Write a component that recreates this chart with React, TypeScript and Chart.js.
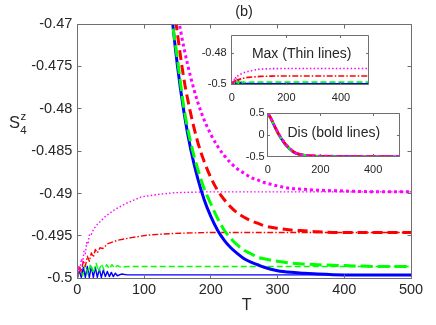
import React, { useEffect, useRef } from "react";
import { Chart, registerables } from "chart.js";
Chart.register(...registerables);

const FONT = "'Liberation Sans', Arial, Helvetica, sans-serif";
const AXIS_COLOR = "#6f6f6f";
const TEXT_COLOR = "#262626";

// ---------- tick values / labels ----------
const X_TICKS = [0, 100, 200, 300, 400, 500];
const X_TICK_LABELS = ["0", "100", "200", "300", "400", "500"];
const Y_TICKS = [-0.5, -0.495, -0.49, -0.485, -0.48, -0.475, -0.47];
const Y_TICK_LABELS = ["-0.5", "-0.495", "-0.49", "-0.485", "-0.48", "-0.475", "-0.47"];
const INSET_X_TICKS = [0, 200, 400];
const INSET_X_LABELS = ["0", "200", "400"];
const MAX_Y_TICKS = [-0.5, -0.48];
const MAX_Y_LABELS = ["-0.5", "-0.48"];
const DIS_Y_TICKS = [-0.5, 0, 0.5];
const DIS_Y_LABELS = ["-0.5", "0", "0.5"];

// ---------- bold lines (Dis) ----------
const T_BOLD = [0, 10, 20, 30, 40, 50, 60, 70, 80, 90, 100, 110, 120, 130, 140, 150, 160, 170, 180, 190, 200, 210, 220, 230, 240, 250, 260, 270, 280, 300, 320, 340, 360, 400, 450, 500];
const BLUE_BOLD = [0.5, 0.4, 0.28, 0.15, 0.03, -0.07, -0.16, -0.24, -0.3, -0.355, -0.4, -0.428, -0.446, -0.4583, -0.4676, -0.4749, -0.4805, -0.4848, -0.4881, -0.4907, -0.4927, -0.4943, -0.4955, -0.4964, -0.4971, -0.4977, -0.4981, -0.4984, -0.4987, -0.4991, -0.4993, -0.4994, -0.4995, -0.4996, -0.4996, -0.4996];
const GREEN_BOLD = [0.5, 0.4, 0.28, 0.15, 0.03, -0.07, -0.16, -0.24, -0.3, -0.355, -0.4, -0.428, -0.446, -0.4586, -0.4681, -0.4741, -0.48, -0.484, -0.487, -0.4894, -0.4912, -0.4929, -0.4943, -0.4953, -0.4961, -0.4967, -0.4971, -0.4975, -0.4977, -0.498, -0.4982, -0.4983, -0.4984, -0.4985, -0.4986, -0.4986];
const RED_BOLD = [0.5, 0.41, 0.29, 0.16, 0.04, -0.06, -0.15, -0.23, -0.29, -0.345, -0.39, -0.422, -0.4441, -0.4556, -0.4646, -0.4711, -0.4766, -0.4806, -0.4838, -0.4862, -0.4881, -0.4896, -0.4907, -0.4916, -0.4923, -0.4928, -0.4932, -0.4935, -0.4938, -0.4941, -0.4943, -0.4944, -0.4945, -0.4946, -0.4946, -0.4946];
const MAGENTA_BOLD = [0.5, 0.41, 0.29, 0.17, 0.05, -0.05, -0.14, -0.22, -0.285, -0.34, -0.39, -0.424, -0.4479, -0.4564, -0.4632, -0.4686, -0.4729, -0.4763, -0.4791, -0.4813, -0.483, -0.4844, -0.4855, -0.4864, -0.4871, -0.4876, -0.4881, -0.4884, -0.4887, -0.4891, -0.4894, -0.4895, -0.4896, -0.4897, -0.4898, -0.4898];

// ---------- thin lines (Max) ----------
const T_BLUE_THIN = [0, 3, 6, 9, 12, 15, 18, 21, 24, 27, 30, 33, 36, 39, 42, 45, 48, 51, 54, 57, 60, 66, 75, 90, 120, 200, 300, 500];
const BLUE_THIN = [-0.5, -0.4991, -0.4999, -0.4987, -0.4999, -0.4986, -0.4999, -0.4986, -0.4999, -0.4987, -0.4999, -0.4989, -0.4999, -0.499, -0.4998, -0.4992, -0.4998, -0.4993, -0.4998, -0.4994, -0.4997, -0.4995, -0.4996, -0.4996, -0.4996, -0.4996, -0.4996, -0.4996];
const T_GREEN_THIN = [0, 4, 8, 12, 16, 20, 24, 28, 32, 36, 40, 44, 48, 52, 56, 60, 66, 75, 90, 120, 200, 300, 500];
const GREEN_THIN = [-0.5, -0.4987, -0.4997, -0.4984, -0.4995, -0.4983, -0.4994, -0.4982, -0.4992, -0.4983, -0.499, -0.4984, -0.4989, -0.4984, -0.4988, -0.4985, -0.4987, -0.4986, -0.4986, -0.4986, -0.4986, -0.4986, -0.4986];
const T_RED_THIN = [0, 3, 6, 9, 12, 15, 18, 21, 24, 27, 30, 34, 38, 46, 61, 81, 106, 146, 196, 300, 500];
const RED_THIN = [-0.4999, -0.4986, -0.4993, -0.4979, -0.4986, -0.4974, -0.498, -0.497, -0.4975, -0.4966, -0.497, -0.4964, -0.4965, -0.4959, -0.4955, -0.4952, -0.4949, -0.4947, -0.4946, -0.4946, -0.4946];
const T_MAGENTA_THIN = [0, 2, 4, 6, 8, 10, 12, 14, 16, 18, 20, 24, 28, 32, 42, 56, 72, 96, 121, 146, 196, 300, 500];
const MAGENTA_THIN = [-0.4999, -0.4986, -0.4992, -0.4977, -0.4982, -0.4968, -0.4971, -0.4958, -0.496, -0.4949, -0.495, -0.4943, -0.4938, -0.4935, -0.4927, -0.4919, -0.4912, -0.4904, -0.4901, -0.4899, -0.4898, -0.4898, -0.4898];

interface SeriesDef { t: number[]; v: number[]; color: string; dash: number[] }

const BOLD_DEFS: SeriesDef[] = [
  { t: T_BOLD, v: BLUE_BOLD, color: "#0000ff", dash: [] },
  { t: T_BOLD, v: GREEN_BOLD, color: "#00ff00", dash: [12, 5] },
  { t: T_BOLD, v: RED_BOLD, color: "#ff0000", dash: [10, 5] },
  { t: T_BOLD, v: MAGENTA_BOLD, color: "#ff00ff", dash: [3, 3] },
];
const THIN_DEFS: SeriesDef[] = [
  { t: T_BLUE_THIN, v: BLUE_THIN, color: "#0000ff", dash: [] },
  { t: T_GREEN_THIN, v: GREEN_THIN, color: "#00ff00", dash: [6, 3] },
  { t: T_RED_THIN, v: RED_THIN, color: "#ff0000", dash: [6, 2, 1.5, 2] },
  { t: T_MAGENTA_THIN, v: MAGENTA_THIN, color: "#ff00ff", dash: [1.5, 2.2] },
];

function makeDatasets(defs: SeriesDef[], width: number, smooth: boolean, clip: any) {
  return defs.map((d) => ({
    data: d.t.map((x, i) => ({ x, y: d.v[i] })),
    borderColor: d.color,
    backgroundColor: d.color,
    borderWidth: width,
    borderDash: d.dash,
    borderCapStyle: "butt",
    borderJoinStyle: "round",
    pointRadius: 0,
    pointHoverRadius: 0,
    fill: false,
    tension: 0,
    cubicInterpolationMode: smooth ? "monotone" : "default",
    clip,
  }));
}

type Txt = { text: string; x: number; y: number; size: number };

function framePlugin(id: string, xTicks: number[], yTicks: number[], tickLen: number, fillWhite: boolean, texts: Txt[], extra?: (ctx: CanvasRenderingContext2D) => void) {
  return {
    id,
    beforeDatasetsDraw(chart: any) {
      if (!fillWhite) return;
      const a = chart.chartArea;
      const ctx = chart.ctx;
      ctx.save();
      ctx.fillStyle = "#ffffff";
      ctx.fillRect(a.left, a.top, a.right - a.left, a.bottom - a.top);
      ctx.restore();
    },
    afterDatasetsDraw(chart: any) {
      const a = chart.chartArea;
      const ctx: CanvasRenderingContext2D = chart.ctx;
      const xs = chart.scales.x;
      const ys = chart.scales.y;
      const L = Math.floor(a.left) + 0.5;
      const R = Math.floor(a.right) + 0.5;
      const T = Math.floor(a.top) + 0.5;
      const B = Math.floor(a.bottom) + 0.5;
      ctx.save();
      ctx.strokeStyle = AXIS_COLOR;
      ctx.lineWidth = 1;
      ctx.setLineDash([]);
      ctx.beginPath();
      ctx.rect(L, T, R - L, B - T);
      for (const v of xTicks) {
        const p = Math.floor(xs.getPixelForValue(v)) + 0.5;
        ctx.moveTo(p, B); ctx.lineTo(p, B - tickLen);
        ctx.moveTo(p, T); ctx.lineTo(p, T + tickLen);
      }
      for (const v of yTicks) {
        const p = Math.floor(ys.getPixelForValue(v)) + 0.5;
        ctx.moveTo(L, p); ctx.lineTo(L + tickLen, p);
        ctx.moveTo(R, p); ctx.lineTo(R - tickLen, p);
      }
      ctx.stroke();
      ctx.fillStyle = TEXT_COLOR;
      ctx.textAlign = "center";
      ctx.textBaseline = "middle";
      for (const t of texts) {
        ctx.font = `${t.size}px ${FONT}`;
        ctx.fillText(t.text, t.x, t.y);
      }
      if (extra) extra(ctx);
      ctx.restore();
    },
  };
}

function scaleOpts(min: number, max: number, ticks: number[], labels: string[], size: number, fit: number, horizontal: boolean, padding: number) {
  return {
    type: "linear",
    min,
    max,
    grid: { display: false, drawTicks: false },
    border: { display: false },
    afterBuildTicks: (s: any) => { s.ticks = ticks.map((v) => ({ value: v })); },
    afterFit: (s: any) => { if (horizontal) s.height = fit; else s.width = fit; },
    ticks: {
      autoSkip: false,
      maxRotation: 0,
      minRotation: 0,
      padding,
      color: TEXT_COLOR,
      font: { family: FONT, size },
      callback: (_v: any, i: number) => labels[i],
    },
  };
}

const W = 436;
const H = 325;

function drawYLabel(ctx: CanvasRenderingContext2D) {
  ctx.fillStyle = TEXT_COLOR;
  ctx.textAlign = "left";
  ctx.textBaseline = "alphabetic";
  ctx.font = `16.5px ${FONT}`;
  ctx.fillText("S", 9, 127.6);
  ctx.font = `11.5px ${FONT}`;
  ctx.fillText("z", 20.5, 120);
  ctx.fillText("4", 20.3, 134);
}

export default function App() {
  const mainRef = useRef<HTMLCanvasElement>(null);
  const maxRef = useRef<HTMLCanvasElement>(null);
  const disRef = useRef<HTMLCanvasElement>(null);

  useEffect(() => {
    const charts: Chart[] = [];
    // main chart
    const mainBox = { left: 77.3, right: 411, top: 24, bottom: 278.3 };
    const mainDatasets = [
      ...makeDatasets(BOLD_DEFS, 3, true, 0).reverse(),
      ...makeDatasets(THIN_DEFS, 1.4, false, undefined).reverse(),
    ];
    charts.push(new Chart(mainRef.current as HTMLCanvasElement, {
      type: "line",
      data: { datasets: mainDatasets as any },
      options: {
        responsive: false,
        animation: false,
        devicePixelRatio: 1,
        events: [],
        layout: { padding: { left: 0, top: mainBox.top, right: W - mainBox.right, bottom: 0 } },
        plugins: { legend: { display: false }, tooltip: { enabled: false }, title: { display: false } },
        scales: {
          x: scaleOpts(0, 500, X_TICKS, X_TICK_LABELS, 14.5, H - mainBox.bottom, true, 3) as any,
          y: scaleOpts(-0.5, -0.47, Y_TICKS, Y_TICK_LABELS, 14.5, mainBox.left, false, 5) as any,
        },
      },
      plugins: [framePlugin("mainFrame", X_TICKS, Y_TICKS, 4, false, [
        { text: "(b)", x: 244, y: 12, size: 14.5 },
        { text: "T", x: 246.7, y: 306, size: 16 },
      ], drawYLabel) as any],
    }));

    // inset 1: Max (thin lines)
    const maxBox = { left: 231.7, right: 368.3, top: 35.5, bottom: 84.3 };
    charts.push(new Chart(maxRef.current as HTMLCanvasElement, {
      type: "line",
      data: { datasets: makeDatasets(THIN_DEFS, 1.6, false, undefined).reverse() as any },
      options: {
        responsive: false,
        animation: false,
        devicePixelRatio: 1,
        events: [],
        layout: { padding: { left: maxBox.left - 40, top: maxBox.top, right: W - maxBox.right, bottom: H - maxBox.bottom - 22 } },
        plugins: { legend: { display: false }, tooltip: { enabled: false } },
        scales: {
          x: scaleOpts(0, 500, INSET_X_TICKS, INSET_X_LABELS, 11, 22, true, 7) as any,
          y: scaleOpts(-0.5, -0.4685, MAX_Y_TICKS, MAX_Y_LABELS, 11, 40, false, 5) as any,
        },
      },
      plugins: [framePlugin("maxFrame", INSET_X_TICKS, MAX_Y_TICKS, 2.5, true, [
        { text: "Max (Thin lines)", x: 301.7, y: 54.3, size: 14 },
      ]) as any],
    }));

    // inset 2: Dis (bold lines)
    const disBox = { left: 267.7, right: 399.5, top: 113.3, bottom: 156.7 };
    charts.push(new Chart(disRef.current as HTMLCanvasElement, {
      type: "line",
      data: { datasets: makeDatasets(BOLD_DEFS, 2.6, true, undefined).reverse() as any },
      options: {
        responsive: false,
        animation: false,
        devicePixelRatio: 1,
        events: [],
        layout: { padding: { left: disBox.left - 40, top: disBox.top, right: W - disBox.right, bottom: H - disBox.bottom - 22 } },
        plugins: { legend: { display: false }, tooltip: { enabled: false } },
        scales: {
          x: scaleOpts(0, 500, INSET_X_TICKS, INSET_X_LABELS, 11, 22, true, 7) as any,
          y: scaleOpts(-0.5, 0.5, DIS_Y_TICKS, DIS_Y_LABELS, 11, 40, false, 3) as any,
        },
      },
      plugins: [framePlugin("disFrame", INSET_X_TICKS, DIS_Y_TICKS, 2.5, true, [
        { text: "Dis (bold lines)", x: 333.8, y: 133.3, size: 14 },
      ]) as any],
    }));

    return () => { charts.forEach((c) => c.destroy()); };
  }, []);

  const cs: React.CSSProperties = { position: "absolute", left: 0, top: 0, width: W, height: H, display: "block" };
  return (
    <div style={{ position: "absolute", left: 0, top: 0, width: W, height: H, background: "#ffffff", overflow: "hidden" }}>
      <canvas ref={mainRef} width={W} height={H} style={cs} />
      <canvas ref={maxRef} width={W} height={H} style={cs} />
      <canvas ref={disRef} width={W} height={H} style={cs} />
    </div>
  );
}
